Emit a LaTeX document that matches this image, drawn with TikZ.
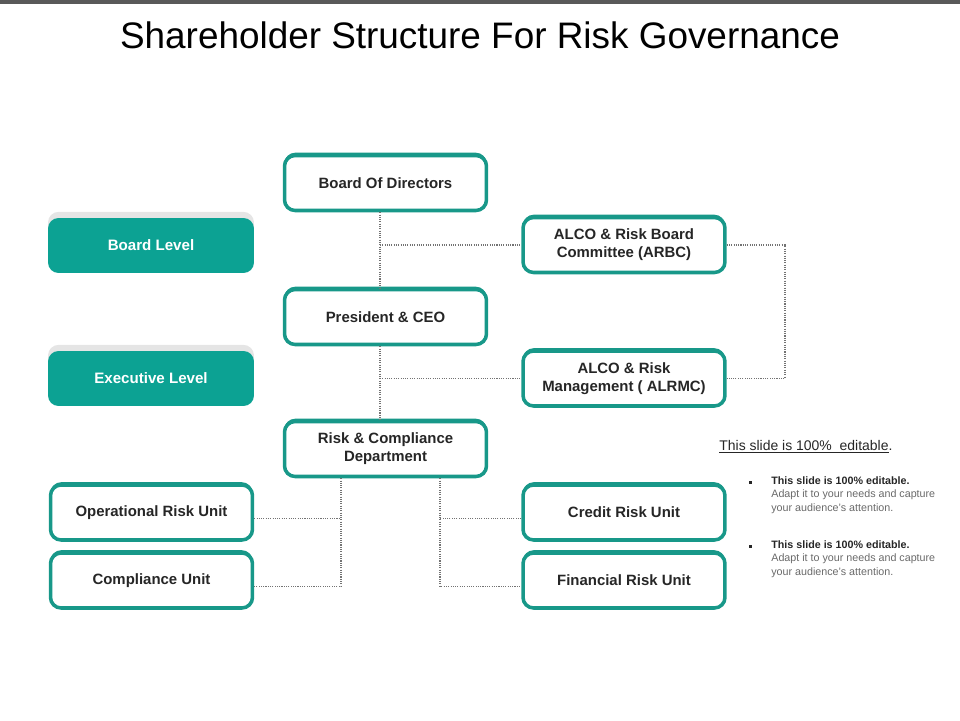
\documentclass[tikz,border=0pt]{standalone}
\usepackage{fontspec}
\setmainfont{Liberation Sans}
\usetikzlibrary{shadows}

\definecolor{boxteal}{RGB}{24,152,137}
\definecolor{levelteal}{RGB}{12,162,147}
\definecolor{darktext}{RGB}{38,38,38}
\definecolor{greytext}{RGB}{105,105,105}
\definecolor{topbar}{RGB}{89,89,89}

\tikzset{
	unitbox/.style={draw=boxteal, line width=2pt, rounded corners=6pt, fill=white,
		minimum width=4.04cm, minimum height=1.1cm, align=center, text=darktext,
		font=\bfseries\fontsize{8.5}{10.2}\selectfont,
		preaction={fill=boxteal, transform canvas={yshift=1.6pt}}},
	levelbox/.style={fill=levelteal, rounded corners=6pt, minimum width=4.12cm, minimum height=1.1cm,
		text=white, font=\bfseries\fontsize{8.6}{10}\selectfont,
		drop shadow={shadow xshift=0pt, shadow yshift=3.5pt, opacity=0.1, fill=black}},
	link/.style={draw=black!55, line width=0.9pt, dash pattern=on 0.6pt off 0.7pt},
	note/.style={anchor=north west, align=left, inner sep=0pt, font=\fontsize{6.1}{7.6}\selectfont}
}

\begin{document}
\begin{tikzpicture}[x=0.02cm, y=-0.02cm]

	\useasboundingbox (0,0) rectangle (960,720);

	% top bar and title
	\fill[topbar] (0,0) rectangle (960,4);
	\node (title) at (480,35) {\fontsize{21}{25}\selectfont Shareholder Structure For Risk Governance};

	% level labels
	\node[levelbox] (board) at (151,245.5) {Board Level};
	\node[levelbox] (exec) at (151,378.5) {Executive Level};

	% main chain
	\node[unitbox] (bod) at (385.5,183) {Board Of Directors};
	\node[unitbox] (ceo) at (385.5,317) {President \& CEO};
	\node[unitbox] (rcd) at (385.5,449) {Risk \& Compliance\\Department};

	% committees
	\node[unitbox] (arbc) at (624,245) {ALCO \& Risk Board\\Committee (ARBC)};
	\node[unitbox] (alrmc) at (624,378.5) {ALCO \& Risk\\Management ( ALRMC)};

	% units
	\node[unitbox] (oru) at (151.5,512.5) {Operational Risk Unit};
	\node[unitbox] (cu) at (151.5,580.5) {Compliance Unit};
	\node[unitbox] (cru) at (624,512.5) {Credit Risk Unit};
	\node[unitbox] (fru) at (624,580.5) {Financial Risk Unit};

	% dotted links
	\coordinate (j1) at ([xshift=-0.11cm]bod.south |- arbc.west);
	\coordinate (j2) at ([xshift=-0.11cm]ceo.south |- alrmc.west);
	\draw[link] ([xshift=-0.11cm]bod.south) -- ([xshift=-0.11cm]ceo.north);
	\draw[link] ([xshift=-0.11cm]ceo.south) -- ([xshift=-0.11cm]rcd.north);
	\draw[link] (j1) -- (arbc.west);
	\draw[link] (j2) -- (alrmc.west);
	\draw[link] (arbc.east) -- ++(58,0) |- (alrmc.east);

	\draw[link] ([xshift=-0.89cm]rcd.south) |- ([yshift=-0.12cm]cu.east);
	\draw[link] ([yshift=-0.12cm]oru.east) -- ([xshift=-0.89cm,yshift=-0.12cm]rcd.south |- oru.east);
	\draw[link] ([xshift=1.09cm]rcd.south) |- ([yshift=-0.12cm]fru.west);
	\draw[link] ([yshift=-0.12cm]cru.west) -- ([xshift=1.09cm,yshift=-0.12cm]rcd.south |- cru.west);

	% notes
	\node[anchor=west, inner sep=0pt, text=darktext, font=\fontsize{7.95}{9}\selectfont] (head) at (719,447) {\underline{This slide is 100\%\ \ editable}.};
	\fill[darktext] (749,480.5) rectangle (752,483.5);
	\node[note] (n1) at (771,476.5) {\textcolor{darktext}{\bfseries This slide is 100\% editable.}\\\textcolor{greytext}{Adapt it to your needs and capture}\\\textcolor{greytext}{your audience's attention.}};
	\fill[darktext] (749,544.5) rectangle (752,547.5);
	\node[note] (n2) at (771,540.5) {\textcolor{darktext}{\bfseries This slide is 100\% editable.}\\\textcolor{greytext}{Adapt it to your needs and capture}\\\textcolor{greytext}{your audience's attention.}};

\end{tikzpicture}
\end{document}
